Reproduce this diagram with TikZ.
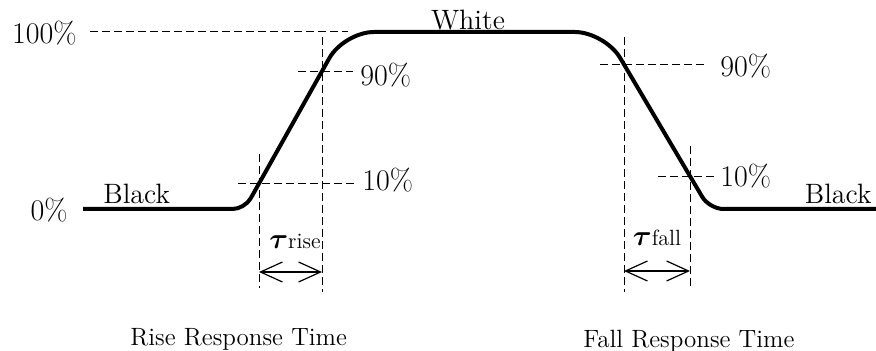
\documentclass[tikz,border=0pt]{standalone}
\usepackage{amsmath,amssymb}
\usepackage{bm}
\usetikzlibrary{arrows.meta,positioning,calc}

\begin{document}
\begin{tikzpicture}[
  x=0.5pt, y=-0.5pt,
  font=\fontsize{14}{16}\selectfont,
  lbl/.style={inner sep=0pt},
  pct/.style={lbl, font=\fontsize{15}{17}\selectfont},
  wave/.style={line width=2pt, line join=round},
  guide/.style={line width=0.5pt, dash pattern=on 4pt off 2pt},
  span/.style={{Straight Barb[length=11pt,width=10pt]}-{Straight Barb[length=11pt,width=10pt]}, line width=0.6pt}
]
  \useasboundingbox (0,0) rectangle (876,351);

  % waveform corners
  \coordinate (start)  at (83,209);
  \coordinate (riseLo) at (244.7,209);
  \coordinate (riseHi) at (344,32);
  \coordinate (fallHi) at (604.8,32);
  \coordinate (fallLo) at (709.4,209);
  \coordinate (stop)   at (876,209);
  \draw[wave] (start) [rounded corners=6pt] -- (riseLo) [rounded corners=15pt] -- (riseHi)
    -- (fallHi) [rounded corners=7pt] -- (fallLo) -- (stop);

  % crossings
  \coordinate (r10x) at (259,184);
  \coordinate (r90x) at (322,72);
  \coordinate (f90x) at (624,65);
  \coordinate (f10x) at (690,177);

  % levels
  \node[pct, anchor=east] (lvlHi) at (77,33) {100\%};
  \node[pct, anchor=east] (lvlLo) at (68,210) {0\%};
  \node[lbl, anchor=base west] (blackL) at (103,204) {Black};
  \node[lbl, anchor=base] (white) at (468,30) {White};
  \node[lbl, anchor=base east] (blackR) at (872,204) {Black};
  \node[pct, anchor=base west] (r90) at (360,86) {90\%};
  \node[pct, anchor=base west] (r10) at (362,191) {10\%};
  \node[pct, anchor=base west] (f90) at (720,77) {90\%};
  \node[pct, anchor=base west] (f10) at (720,187) {10\%};

  % guides
  \coordinate (hiEnd) at (348,32);
  \draw[guide] ([xshift=6.5pt]lvlHi.east |- hiEnd) -- (hiEnd);
  \draw[guide] (r90x -| 298,0) -- (r90x -| 353,0);
  \draw[guide] (r10x -| 238,0) -- (r10x -| 356,0);
  \draw[guide] (f90x -| 600,0) -- (f90x -| 706,0);
  \draw[guide] (f10x -| 658,0) -- (f10x -| 716,0);
  \draw[guide] (r10x |- 0,154) -- (r10x |- 0,288);
  \draw[guide] (r90x |- 0,37) -- (r90x |- 0,292);
  \draw[guide] (f90x |- 0,37) -- (f90x |- 0,292);
  \draw[guide] (f10x |- 0,146) -- (f10x |- 0,288);

  % response times
  \coordinate (riseA) at (r10x |- 0,272);
  \coordinate (riseB) at (r90x |- 0,272);
  \coordinate (fallA) at (f90x |- 0,271);
  \coordinate (fallB) at (f10x |- 0,271);
  \draw[span] (riseA) -- (riseB);
  \draw[span] (fallA) -- (fallB);
  \node[lbl, anchor=base] (tauR) at (295,249) {$\boldsymbol{\tau}${\fontsize{11}{12}\selectfont rise}};
  \node[lbl, anchor=base] (tauF) at (657,246) {$\boldsymbol{\tau}${\fontsize{11}{12}\selectfont fall}};
  \node[lbl, anchor=base west, font=\fontsize{12.5}{14}\selectfont] (riseT) at (130,346) {Rise Response Time};
  \node[lbl, anchor=base west, font=\fontsize{12.5}{14}\selectfont] (fallT) at (583,348) {Fall Response Time};
\end{tikzpicture}
\end{document}
